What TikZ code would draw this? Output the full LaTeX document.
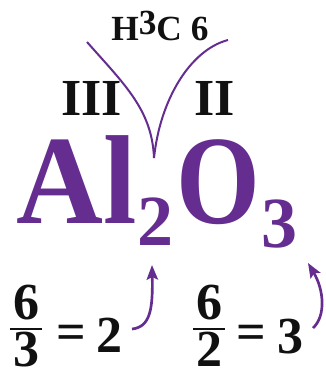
\documentclass[tikz,border=0pt]{standalone}
\usepackage{fontspec}
\setmainfont{Liberation Serif}
\newfontfamily\alfont[FakeStretch=0.85]{Liberation Serif}
\newfontfamily\alwidefont[FakeStretch=0.95]{Liberation Serif}
\usetikzlibrary{arrows.meta}
\definecolor{alPurple}{HTML}{662D91}
\definecolor{alInk}{HTML}{111111}

\begin{document}
\begin{tikzpicture}[x=0.75pt,y=-0.75pt,
    lbl/.style={inner sep=0pt,anchor=base west,text=alInk,font=\bfseries},
    symb/.style={inner sep=0pt,anchor=base west,text=alPurple,font=\alfont\bfseries},
    bond/.style={alPurple,line width=1.5pt},
    hint/.style={alPurple,line width=2pt,-{Stealth[length=11pt,width=8.5pt,inset=2pt]}}]
  \useasboundingbox (0,0) rectangle (325,375);
  % header and valences
  \node[lbl,font=\bfseries\fontsize{26.5}{30}\selectfont] (head) at (111,40) {H\raisebox{4pt}{3}C 6};
  \node[lbl,font=\bfseries\fontsize{39}{46}\selectfont] (valAl) at (61,115) {III};
  \node[lbl,font=\bfseries\fontsize{39}{46}\selectfont] (valO) at (194,115) {II};
  % formula
  \node[symb,font=\alwidefont\bfseries\fontsize{95}{110}\selectfont] (Al) at (16,223) {Al};
  \node[symb,font=\bfseries\fontsize{54}{64}\selectfont] (subTwo) at (137,245) {2};
  \node[symb,font=\alfont\bfseries\fontsize{95}{110}\selectfont] (O) at (176,223) {O};
  \node[symb,font=\bfseries\fontsize{54}{64}\selectfont] (subThree) at (261,247) {3};
  \coordinate (leftEnd) at (87,42);
  \coordinate (rightEnd) at (228,40);
  \coordinate (cusp) at (154,158);
  \draw[bond] (leftEnd) .. controls (125,85) and (152,110) .. (cusp);
  \draw[bond] (rightEnd) .. controls (190,50) and (160,100) .. (cusp);
  % the two divisions
  \begin{scope}[every node/.style={inner sep=0pt,text=alInk,font=\bfseries\fontsize{39}{46}\selectfont}]
    \node[anchor=base] (numA) at (26,319) {6};
    \node[anchor=base] (denA) at (26,366) {3};
    \node (eqA) at (71,337) {=};
    \node[anchor=base west] (resA) at (96,352) {2};
    \node[anchor=base] (numB) at (209,319) {6};
    \node[anchor=base] (denB) at (209,366) {2};
    \node (eqB) at (251,337) {=};
    \node[anchor=base west] (resB) at (277,353) {3};
  \end{scope}
  \draw[alInk,line width=2.2pt] (10,329) -- (42,329);
  \draw[alInk,line width=2.2pt] (193,329) -- (225,329);
  \coordinate (tailA) at (132,329);
  \coordinate (tipA) at (152,265);
  \coordinate (tailB) at (313,328);
  \coordinate (tipB) at (308,263);
  \draw[hint] (tailA) .. controls (150,327) and (153,310) .. (tipA);
  \draw[hint] (tailB) .. controls (326,316) and (324,290) .. (tipB);
\end{tikzpicture}
\end{document}
